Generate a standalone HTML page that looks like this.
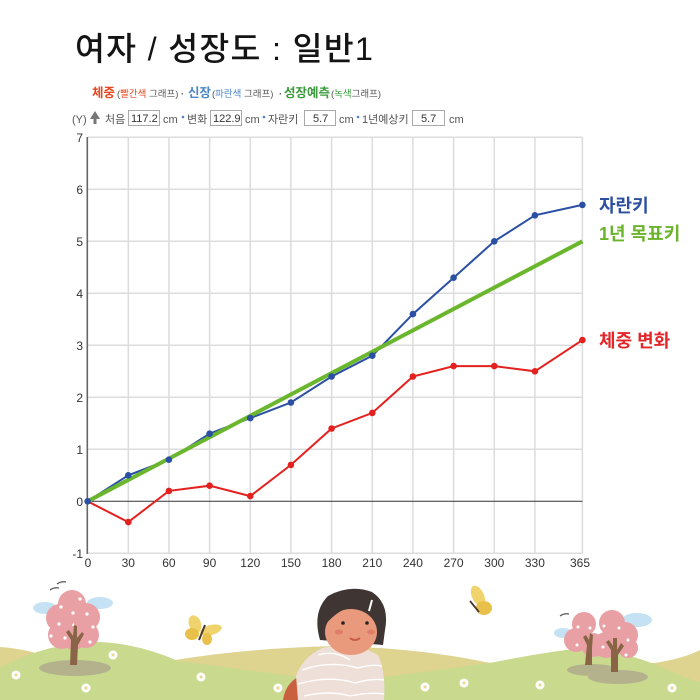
<!DOCTYPE html>
<html><head><meta charset="utf-8"><style>
html,body{margin:0;padding:0;background:#fff;}
svg{display:block;}
text{font-family:"Liberation Sans","Noto Sans CJK KR",sans-serif;}
</style></head><body>
<svg width="700" height="700" viewBox="0 0 700 700" xmlns="http://www.w3.org/2000/svg">
<rect width="700" height="700" fill="#fff"/>
<!-- Title -->
<text x="75" y="60" font-size="32.5" font-weight="500" fill="#141414" textLength="298" lengthAdjust="spacing">여자 / 성장도 : 일반1</text>
<!-- Legend row 1 -->
<g font-size="9.5" fill="#555">
<text x="92" y="97" font-size="12.5" font-weight="bold" fill="#e8461e">체중</text>
<text x="117" y="97">(<tspan fill="#e8461e">빨간색</tspan> 그래프)</text>
<text x="181" y="97" font-weight="bold" fill="#555">·</text>
<text x="188" y="97" font-size="12.5" font-weight="bold" fill="#4a86c9">신장</text>
<text x="212" y="97">(<tspan fill="#4a86c9">파란색</tspan> 그래프)</text>
<text x="279" y="97" font-weight="bold" fill="#555">·</text>
<text x="284" y="97" font-size="12.5" font-weight="bold" fill="#3a9a3c">성장예측</text>
<text x="331" y="97">(<tspan fill="#3a9a3c">녹색</tspan>그래프)</text>
</g>
<!-- Legend row 2 -->
<g font-size="11" fill="#555">
<text x="72" y="123">(Y)</text>
<polygon points="95,111 90,119 93.5,119 93.5,124 96.5,124 96.5,119 100,119" fill="#777"/>
<text x="105" y="123">처음</text>
<rect x="128.5" y="110.5" width="31" height="15" fill="#fff" stroke="#aaa"/>
<text x="131" y="122" fill="#333">117.2</text>
<text x="163" y="123">cm</text>
<circle cx="183" cy="117" r="1.3" fill="#4a86c9"/>
<text x="187" y="123">변화</text>
<rect x="210.5" y="110.5" width="31" height="15" fill="#fff" stroke="#aaa"/>
<text x="213" y="122" fill="#333">122.9</text>
<text x="245" y="123">cm</text>
<circle cx="264" cy="117" r="1.3" fill="#4a86c9"/>
<text x="268" y="123">자란키</text>
<rect x="304.5" y="110.5" width="31" height="15" fill="#fff" stroke="#aaa"/>
<text x="313" y="122" fill="#333">5.7</text>
<text x="339" y="123">cm</text>
<circle cx="358" cy="117" r="1.3" fill="#4a86c9"/>
<text x="362" y="123">1년예상키</text>
<rect x="412.5" y="110.5" width="32" height="15" fill="#fff" stroke="#aaa"/>
<text x="421" y="122" fill="#333">5.7</text>
<text x="449" y="123">cm</text>
</g>
<!-- Grid -->
<g stroke="#dcdcdc" stroke-width="1.5">
<line x1="87.6" y1="137.3" x2="582.4" y2="137.3"/>
<line x1="87.6" y1="189.3" x2="582.4" y2="189.3"/>
<line x1="87.6" y1="241.3" x2="582.4" y2="241.3"/>
<line x1="87.6" y1="293.3" x2="582.4" y2="293.3"/>
<line x1="87.6" y1="345.3" x2="582.4" y2="345.3"/>
<line x1="87.6" y1="397.3" x2="582.4" y2="397.3"/>
<line x1="87.6" y1="449.3" x2="582.4" y2="449.3"/>
<line x1="87.6" y1="553.3" x2="582.4" y2="553.3"/>
<line x1="128.3" y1="137.3" x2="128.3" y2="553.3"/>
<line x1="168.9" y1="137.3" x2="168.9" y2="553.3"/>
<line x1="209.6" y1="137.3" x2="209.6" y2="553.3"/>
<line x1="250.3" y1="137.3" x2="250.3" y2="553.3"/>
<line x1="290.9" y1="137.3" x2="290.9" y2="553.3"/>
<line x1="331.6" y1="137.3" x2="331.6" y2="553.3"/>
<line x1="372.3" y1="137.3" x2="372.3" y2="553.3"/>
<line x1="412.9" y1="137.3" x2="412.9" y2="553.3"/>
<line x1="453.6" y1="137.3" x2="453.6" y2="553.3"/>
<line x1="494.3" y1="137.3" x2="494.3" y2="553.3"/>
<line x1="534.9" y1="137.3" x2="534.9" y2="553.3"/>
<line x1="582.4" y1="137.3" x2="582.4" y2="553.3"/>
</g>
<line x1="87.6" y1="501.3" x2="582.4" y2="501.3" stroke="#333" stroke-width="1"/>
<line x1="87.3" y1="137" x2="87.3" y2="554" stroke="#666" stroke-width="1.6"/>
<!-- Y labels -->
<g font-size="12" fill="#333" text-anchor="end">
<text x="83" y="142">7</text>
<text x="83" y="194">6</text>
<text x="83" y="246">5</text>
<text x="83" y="298">4</text>
<text x="83" y="350">3</text>
<text x="83" y="402">2</text>
<text x="83" y="454">1</text>
<text x="83" y="506">0</text>
<text x="83" y="558">-1</text>
</g>
<!-- X labels -->
<g font-size="12" fill="#333" text-anchor="middle">
<text x="88" y="567">0</text>
<text x="128.3" y="567">30</text>
<text x="168.9" y="567">60</text>
<text x="209.6" y="567">90</text>
<text x="250.3" y="567">120</text>
<text x="290.9" y="567">150</text>
<text x="331.6" y="567">180</text>
<text x="372.3" y="567">210</text>
<text x="412.9" y="567">240</text>
<text x="453.6" y="567">270</text>
<text x="494.3" y="567">300</text>
<text x="534.9" y="567">330</text>
<text x="580" y="567">365</text>
</g>
<!-- Red series -->
<polyline fill="none" stroke="#e3221f" stroke-width="2" points="87.6,501.3 128.3,522.1 168.9,490.9 209.6,485.7 250.3,496.1 290.9,464.9 331.6,428.5 372.3,412.9 412.9,376.5 453.6,366.1 494.3,366.1 534.9,371.3 582.4,340.1"/>
<g fill="#e3221f">
<circle cx="128.3" cy="522.1" r="3.3"/><circle cx="168.9" cy="490.9" r="3.3"/><circle cx="209.6" cy="485.7" r="3.3"/><circle cx="250.3" cy="496.1" r="3.3"/><circle cx="290.9" cy="464.9" r="3.3"/><circle cx="331.6" cy="428.5" r="3.3"/><circle cx="372.3" cy="412.9" r="3.3"/><circle cx="412.9" cy="376.5" r="3.3"/><circle cx="453.6" cy="366.1" r="3.3"/><circle cx="494.3" cy="366.1" r="3.3"/><circle cx="534.9" cy="371.3" r="3.3"/><circle cx="582.4" cy="340.1" r="3.3"/>
</g>
<!-- Blue series -->
<polyline fill="none" stroke="#2b4fa3" stroke-width="2" points="87.6,501.3 128.3,475.3 168.9,459.7 209.6,433.7 250.3,418.1 290.9,402.5 331.6,376.5 372.3,355.7 412.9,314.1 453.6,277.7 494.3,241.3 534.9,215.3 582.4,204.9"/>
<!-- Green -->
<line x1="87.6" y1="501.3" x2="582.4" y2="241.3" stroke="#6ab62d" stroke-width="4"/>
<g fill="#2b4fa3">
<circle cx="87.6" cy="501.3" r="3.3"/><circle cx="128.3" cy="475.3" r="3.3"/><circle cx="168.9" cy="459.7" r="3.3"/><circle cx="209.6" cy="433.7" r="3.3"/><circle cx="250.3" cy="418.1" r="3.3"/><circle cx="290.9" cy="402.5" r="3.3"/><circle cx="331.6" cy="376.5" r="3.3"/><circle cx="372.3" cy="355.7" r="3.3"/><circle cx="412.9" cy="314.1" r="3.3"/><circle cx="453.6" cy="277.7" r="3.3"/><circle cx="494.3" cy="241.3" r="3.3"/><circle cx="534.9" cy="215.3" r="3.3"/><circle cx="582.4" cy="204.9" r="3.3"/>
</g>
<!-- Right labels -->
<g font-size="18" font-weight="bold">
<text x="599" y="212" fill="#2c4f9f">자란키</text>
<text x="599" y="240" fill="#6ab42c">1년 목표키</text>
<text x="599" y="347" fill="#e3262a">체중 변화</text>
</g>

<!-- Landscape -->
<path d="M0,647 Q30,649 55,660 L175,660 Q250,648 335,646 Q420,648 490,663 L655,663 Q685,658 700,650 L700,700 L0,700 Z" fill="#ded38f"/>
<path d="M0,667 Q50,642 100,642 Q140,644 178,661 L300,677 L385,677 Q440,670 495,662 Q545,652 583,648 Q630,652 668,670 Q690,680 700,682 L700,700 L0,700 Z" fill="#c9da8f"/>
<!-- Left tree -->
<ellipse cx="45" cy="608" rx="12" ry="6" fill="#c5e2f4"/>
<ellipse cx="100" cy="603" rx="13" ry="6" fill="#c5e2f4"/>
<ellipse cx="75" cy="668" rx="36" ry="8" fill="#b3b28c"/>
<path d="M50,590 q4,-3 9,-2 M57,584 q4,-3 9,-2" stroke="#555" stroke-width="1.2" fill="none"/>
<g fill="#e9a0a5">
<circle cx="72" cy="604" r="14"/><circle cx="60" cy="618" r="14"/><circle cx="86" cy="617" r="14"/><circle cx="62" cy="635" r="14"/><circle cx="86" cy="635" r="13"/><circle cx="74" cy="638" r="12"/>
</g>
<path d="M70,665 L71,640 L66,632 L69,630 L73,636 L74,625 L77,626 L77,638 L82,632 L84,634 L78,645 L77,665 Z" fill="#8a6446"/>
<g fill="#fff"><circle cx="80" cy="599" r="1.6"/><circle cx="61" cy="607" r="1.6"/><circle cx="73" cy="613" r="1.6"/><circle cx="87" cy="614" r="1.6"/><circle cx="59" cy="624" r="1.6"/><circle cx="93" cy="627" r="1.6"/><circle cx="51" cy="636" r="1.6"/><circle cx="65" cy="638" r="1.6"/><circle cx="90" cy="642" r="1.6"/></g>
<!-- Butterfly left -->
<g>
<ellipse cx="195" cy="624" rx="6" ry="9" fill="#f1d36e" transform="rotate(-20 195 624)"/>
<ellipse cx="192" cy="634" rx="7" ry="6" fill="#e8c04a"/>
<ellipse cx="211" cy="630" rx="11" ry="5" fill="#f1d36e" transform="rotate(-15 211 630)"/>
<ellipse cx="207" cy="639" rx="5" ry="6" fill="#e8c04a"/>
<line x1="199" y1="640" x2="205" y2="625" stroke="#4a3a30" stroke-width="2"/>
</g>
<!-- Butterfly right -->
<g>
<ellipse cx="478" cy="596" rx="6" ry="11" fill="#f1d36e" transform="rotate(-25 478 596)"/>
<ellipse cx="484" cy="608" rx="8" ry="7" fill="#e8c04a"/>
<line x1="470" y1="601" x2="479" y2="612" stroke="#4a3a30" stroke-width="1.8"/>
</g>
<!-- Right trees -->
<ellipse cx="563" cy="633" rx="9" ry="5" fill="#c5e2f4"/>
<ellipse cx="637" cy="620" rx="15" ry="7" fill="#c5e2f4"/>
<path d="M560,616 q4,-3 9,-2" stroke="#555" stroke-width="1.2" fill="none"/>
<ellipse cx="592" cy="670" rx="25" ry="6" fill="#b3b28c"/>
<ellipse cx="618" cy="677" rx="30" ry="7" fill="#b3b28c"/>
<g fill="#e9a0a5">
<circle cx="584" cy="624" r="12"/><circle cx="576" cy="640" r="12"/><circle cx="593" cy="645" r="12"/><circle cx="612" cy="623" r="13"/><circle cx="625" cy="635" r="13"/><circle cx="606" cy="645" r="13"/><circle cx="628" cy="648" r="10"/>
</g>
<path d="M585,665 L587,645 L583,637 L586,635 L589,640 L590,633 L593,635 L592,648 L592,665 Z" fill="#8a6446"/>
<path d="M611,672 L611,650 L606,642 L609,640 L613,646 L613,638 L617,638 L617,650 L621,643 L624,646 L618,655 L618,672 Z" fill="#8a6446"/>
<g fill="#fff"><circle cx="578" cy="627" r="1.5"/><circle cx="590" cy="628" r="1.5"/><circle cx="577" cy="645" r="1.5"/><circle cx="604" cy="626" r="1.5"/><circle cx="619" cy="628" r="1.5"/><circle cx="628" cy="640" r="1.5"/><circle cx="603" cy="647" r="1.5"/><circle cx="626" cy="655" r="1.5"/></g>
<!-- Flowers -->
<g fill="#fff">
<circle cx="16" cy="675" r="4.5"/><circle cx="86" cy="688" r="4.5"/><circle cx="113" cy="655" r="4.5"/><circle cx="201" cy="677" r="4.5"/><circle cx="278" cy="688" r="4.5"/><circle cx="425" cy="687" r="4.5"/><circle cx="464" cy="683" r="4.5"/><circle cx="540" cy="685" r="4.5"/><circle cx="672" cy="688" r="4.5"/>
</g>
<g fill="#ecd58a">
<circle cx="16" cy="675" r="1.5"/><circle cx="86" cy="688" r="1.5"/><circle cx="113" cy="655" r="1.5"/><circle cx="201" cy="677" r="1.5"/><circle cx="278" cy="688" r="1.5"/><circle cx="425" cy="687" r="1.5"/><circle cx="464" cy="683" r="1.5"/><circle cx="540" cy="685" r="1.5"/><circle cx="672" cy="688" r="1.5"/>
</g>
<!-- Person -->
<path d="M283,700 Q286,680 305,674 L322,700 Z" fill="#c9603f"/>
<path d="M298,700 L296,676 Q302,658 322,648 L340,645 Q352,655 368,650 L378,655 Q386,672 384,700 Z" fill="#eee0d9"/>
<g stroke="#fff" stroke-width="1.4" fill="none">
<path d="M302,670 Q330,660 358,668 Q372,664 382,666"/>
<path d="M298,684 Q330,675 355,683 Q372,678 384,680"/>
<path d="M304,696 Q330,690 350,696 Q370,692 384,694"/>
<path d="M318,655 Q335,650 350,660"/>
</g>
<path d="M320,640 Q312,612 328,596 Q350,584 372,592 Q390,604 385,630 L383,645 Z" fill="#3f3533"/>
<ellipse cx="351" cy="632" rx="26" ry="23" fill="#e99a7c"/>
<path d="M325,625 Q326,600 350,598 Q372,598 380,618 Q372,606 356,607 Q340,607 325,625 Z" fill="#3f3533"/>
<circle cx="343" cy="623" r="1.8" fill="#2a2220"/>
<circle cx="367" cy="623" r="1.8" fill="#2a2220"/>
<ellipse cx="339" cy="632" rx="4" ry="2.5" fill="#de7d6a"/>
<ellipse cx="371" cy="632" rx="4" ry="2.5" fill="#de7d6a"/>
<path d="M350,638 Q355,642 360,638" stroke="#c95a45" stroke-width="2" fill="none"/>
<path d="M369,611 L372,600" stroke="#fff" stroke-width="2"/>
</svg>
</body></html>
